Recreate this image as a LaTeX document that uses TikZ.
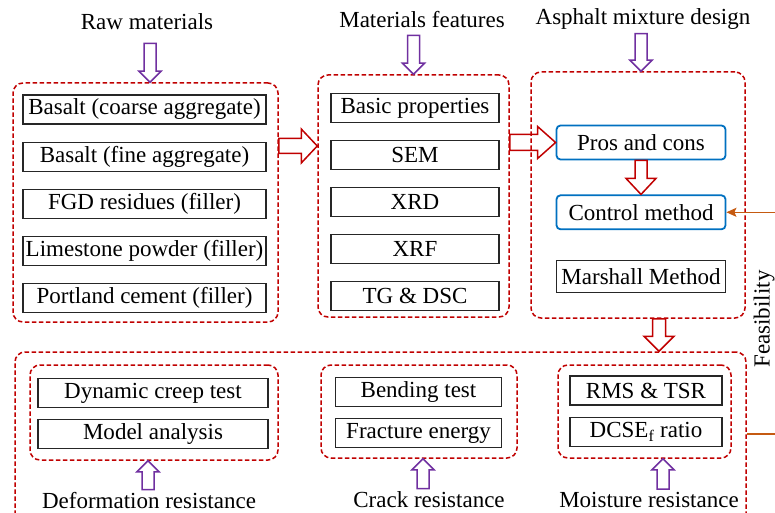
\documentclass[tikz,border=0pt]{standalone}
\usepackage{fontspec}
\setmainfont{Liberation Serif}
\usepackage{tikz}
\usetikzlibrary{positioning,calc,arrows.meta}
\definecolor{dashred}{RGB}{192,0,0}
\definecolor{boxblue}{RGB}{0,112,192}
\definecolor{arrowpurple}{RGB}{112,48,160}
\definecolor{looporange}{RGB}{197,90,17}

\begin{document}
\begin{tikzpicture}[x=1pt, y=-1pt, node distance=17pt,
    every node/.style={font=\fontsize{23}{27}\selectfont},
    heading/.style={inner sep=2pt},
    item/.style={draw=black!85, line width=1.1pt, minimum height=29pt, inner sep=1pt},
    method/.style={draw=boxblue, line width=1.8pt, rounded corners=4pt, minimum width=169pt, minimum height=34pt, inner sep=1pt},
    group/.style={draw=dashred, line width=1.5pt, dash pattern=on 4.5pt off 2.5pt, rounded corners=10pt},
    hollow/.style n args={4}{draw=#1, line width=1.5pt, line join=miter, to path={let \p1=(\tikztostart), \p2=(\tikztotarget), \n1={atan2(\y2-\y1,\x2-\x1)}, \n2={veclen(\x2-\x1,\y2-\y1)-#4} in
        ($(\p1)+(\n1+90:#2)$) -- ($(\p1)+(\n1:\n2)+(\n1+90:#2)$) -- ($(\p1)+(\n1:\n2)+(\n1+90:#3)$) -- (\p2)
        -- ($(\p1)+(\n1:\n2)+(\n1-90:#3)$) -- ($(\p1)+(\n1:\n2)+(\n1-90:#2)$) -- ($(\p1)+(\n1-90:#2)$) -- cycle}},
    feedback/.style={draw=looporange, line width=1.3pt, -{Stealth[length=10pt,width=9pt,inset=2pt]}}]

    \useasboundingbox (0,0) rectangle (775,513);

    % dashed groups
    \node[group, minimum width=265pt, minimum height=239pt] (raw) at (145.5,202.5) {};
    \node[group, minimum width=191pt, minimum height=242pt] (feat) at (413.5,196) {};
    \node[group, minimum width=214pt, minimum height=246pt] (design) at (638,195) {};
    \node[group, minimum width=731pt, minimum height=178pt] (perf) at (380.5,441) {};
    \node[group, minimum width=248pt, minimum height=95pt] (deform) at (154,412.5) {};
    \node[group, minimum width=196pt, minimum height=93pt] (crack) at (419,411.5) {};
    \node[group, minimum width=173pt, minimum height=93pt] (moist) at (644.5,411.5) {};

    % headings
    \node[heading] (rawlabel) at (147,22) {Raw materials};
    \node[heading] (featlabel) at (422,20) {Materials features};
    \node[heading] (designlabel) at (643,19) {Asphalt mixture design};
    \node[heading] (deformlabel) at (149,501) {Deformation resistance};
    \node[heading] (cracklabel) at (429,500) {Crack resistance};
    \node[heading] (moistlabel) at (649,500) {Moisture resistance};
    \node[heading, rotate=90] (feaslabel) at (764,319) {Feasibility};

    % raw materials
    \node[item, minimum width=243pt] (coarse) at (144.5,109.5) {Basalt (coarse aggregate)};
    \node[item, minimum width=243pt, below=of coarse] (fine) {Basalt (fine aggregate)};
    \node[item, minimum width=243pt, below=of fine] (fgd) {FGD residues (filler)};
    \node[item, minimum width=243pt, below=of fgd] (lime) {Limestone powder (filler)};
    \node[item, minimum width=243pt, below=of lime] (cement) {Portland cement (filler)};

    % materials features
    \node[item, minimum width=168pt] (basic) at (415,108) {Basic properties};
    \node[item, minimum width=168pt, below=of basic] (sem) {SEM};
    \node[item, minimum width=168pt, below=of sem] (xrd) {XRD};
    \node[item, minimum width=168pt, below=of xrd] (xrf) {XRF};
    \node[item, minimum width=168pt, below=of xrf] (tgdsc) {TG \& DSC};

    % mixture design
    \node[method] (pros) at (641,142.5) {Pros and cons};
    \node[method, below=34pt of pros] (control) {Control method};
    \node[item, minimum width=169pt, minimum height=32pt, below=30pt of control] (marshall) {Marshall Method};

    % performance tests
    \node[item, minimum width=230pt] (creep) at (153,393) {Dynamic creep test};
    \node[item, minimum width=230pt, below=11pt of creep] (model) {Model analysis};
    \node[item, minimum width=166pt] (bending) at (418.5,392) {Bending test};
    \node[item, minimum width=166pt, below=11pt of bending] (fracture) {Fracture energy};
    \node[item, minimum width=152pt] (rms) at (646,390.5) {RMS \& TSR};
    \node[item, minimum width=152pt, below=11pt of rms] (dcse) {DCSE\textsubscript{f} ratio};

    % hollow arrows
    \draw[hollow={arrowpurple}{6pt}{11pt}{11pt}] ($(rawlabel.south)+(3,11)$) to ($(rawlabel.south |- raw.north)+(3,0)$);
    \draw[hollow={arrowpurple}{6pt}{11pt}{11pt}] ($(feat.north |- featlabel.south)+(0,5)$) to (feat.north);
    \draw[hollow={arrowpurple}{6pt}{11pt}{11pt}] ($(designlabel.south)+(-2,2)$) to ($(designlabel.south |- design.north)+(-2,0)$);
    \draw[hollow={dashred}{7.5pt}{17pt}{16pt}] ($(raw.east |- pros.west)+(0,3.5)$) to ($(feat.west |- pros.west)+(0,3.5)$);
    \draw[hollow={dashred}{8pt}{16pt}{18pt}] (feat.east |- pros.west) to (pros.west);
    \draw[hollow={dashred}{6pt}{15pt}{16pt}] (pros.south) to (control.north);
    \draw[hollow={dashred}{6.5pt}{15pt}{15pt}] ($(design.south)+(21,0)$) to ($(design.south |- perf.north)+(21,0)$);
    \draw[hollow={arrowpurple}{6pt}{11pt}{11pt}] ($(deformlabel.north)+(-1,-1)$) to ($(deformlabel.north |- deform.south)+(-1,0)$);
    \draw[hollow={arrowpurple}{6pt}{11pt}{11pt}] ($(cracklabel.north)+(-6,-1)$) to ($(cracklabel.north |- crack.south)+(-6,0)$);
    \draw[hollow={arrowpurple}{6pt}{11pt}{11pt}] ($(moistlabel.north)+(14,-1)$) to ($(moistlabel.north |- moist.south)+(14,0)$);

    % feasibility loop
    \coordinate (loopturn) at (795,434);
    \draw[feedback] (perf.east |- loopturn) -- (loopturn) |- (control.east);
\end{tikzpicture}
\end{document}
